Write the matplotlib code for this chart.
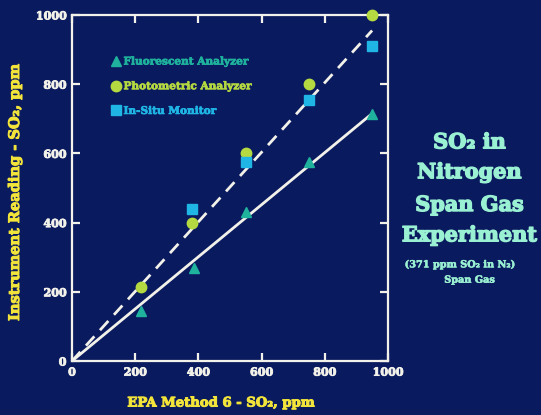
import matplotlib
matplotlib.use("Agg")
import matplotlib.pyplot as plt
import matplotlib.patheffects as pe

# Reference method concentration (EPA Method 6), ppm
epa_x = [220, 385, 550, 750, 950]

# Instrument readings, ppm
fluorescent_x = [220, 385, 550, 750, 950]
fluorescent_y = [145, 270, 430, 575, 715]

photometric_x = [220, 380, 550, 750, 950]
photometric_y = [215, 400, 600, 800, 1000]

insitu_x = [380, 550, 750, 950]
insitu_y = [440, 575, 755, 910]

# Fitted lines through the origin
fit_x = [0, 950]
fluor_fit_y = [0, 715]
photo_fit_y = [0, 955]

ticks = [0, 200, 400, 600, 800, 1000]

BG = "#0a1a5e"
WHITE = "#f2f2ea"
YELLOW = "#f2e43a"
TITLE = "#9af0d2"
C_FLUOR = "#1fb39e"
C_PHOTO = "#b5d940"
C_INSITU = "#1fb6e6"

serif = "DejaVu Serif"


def heavy(color, w=0.7):
    return [pe.withStroke(linewidth=w, foreground=color)]


fig = plt.figure(figsize=(5.41, 4.15), dpi=100, facecolor=BG)
ax = fig.add_axes([0.133, 0.130, 0.584, 0.834], facecolor=BG)

ax.plot(fit_x, fluor_fit_y, color=WHITE, lw=2.0, solid_capstyle="butt", zorder=2)
ax.plot(fit_x, photo_fit_y, color=WHITE, lw=2.0, dashes=(4.5, 3), zorder=2)

ax.plot(fluorescent_x, fluorescent_y, ls="none", marker="^", ms=7.5,
        color=C_FLUOR, mec=C_FLUOR, label="Fluorescent Analyzer", zorder=3)
ax.plot(photometric_x, photometric_y, ls="none", marker="o", ms=7.5,
        color=C_PHOTO, mec=C_PHOTO, label="Photometric Analyzer", zorder=3, clip_on=False)
ax.plot(insitu_x, insitu_y, ls="none", marker="s", ms=6.5,
        color=C_INSITU, mec=C_INSITU, label="In-Situ Monitor", zorder=3)

ax.set_xlim(0, 1000)
ax.set_ylim(0, 1000)
ax.set_xticks(ticks)
ax.set_yticks(ticks)

for s in ax.spines.values():
    s.set_color(WHITE)
    s.set_linewidth(1.6)

ax.tick_params(axis="both", which="both", direction="in", length=6, width=1.6,
               color=WHITE, top=True, right=True, labelcolor=WHITE, labelsize=8, pad=4)
for lab in ax.get_xticklabels() + ax.get_yticklabels():
    lab.set_fontfamily(serif)
    lab.set_fontweight("bold")
    lab.set_path_effects(heavy(WHITE, 0.6))

# Axis titles
fig.text(221 / 541, 1 - 403 / 415, "EPA Method 6 - SO₂, ppm", color=YELLOW, fontsize=9.5,
         fontweight="bold", family=serif, ha="center", va="center",
         path_effects=heavy(YELLOW))
fig.text(15 / 541, 1 - 192 / 415, "Instrument Reading - SO₂, ppm", color=YELLOW,
         fontsize=10.5, fontweight="bold", family=serif, ha="center", va="center",
         rotation=90, path_effects=heavy(YELLOW))

leg = ax.legend(loc="upper left", bbox_to_anchor=(0.108, 0.895), frameon=False,
                handletextpad=0.25, labelspacing=1.3, handlelength=1.0,
                borderaxespad=0, prop={"family": serif, "weight": "bold", "size": 7.6},
                labelcolor=[C_FLUOR, C_PHOTO, C_INSITU])
for t in leg.get_texts():
    t.set_path_effects(heavy(t.get_color(), 0.5))

# Slide title on the right
title_x = 0.868
for txt, y in [("SO₂ in", 0.657), ("Nitrogen", 0.585), ("Span Gas", 0.506), ("Experiment", 0.433)]:
    fig.text(title_x, y, txt, color=TITLE, fontsize=15, fontweight="bold",
             family=serif, ha="center", va="center", path_effects=heavy(TITLE, 1.0))
fig.text(0.850, 0.362, "(371 ppm SO₂ in N₂)", color=TITLE, fontsize=7,
         fontweight="bold", family=serif, ha="center", va="center",
         path_effects=heavy(TITLE, 0.4))
fig.text(title_x, 0.325, "Span Gas", color=TITLE, fontsize=7,
         fontweight="bold", family=serif, ha="center", va="center",
         path_effects=heavy(TITLE, 0.4))

fig.savefig("out.png", dpi=100, facecolor=BG)
